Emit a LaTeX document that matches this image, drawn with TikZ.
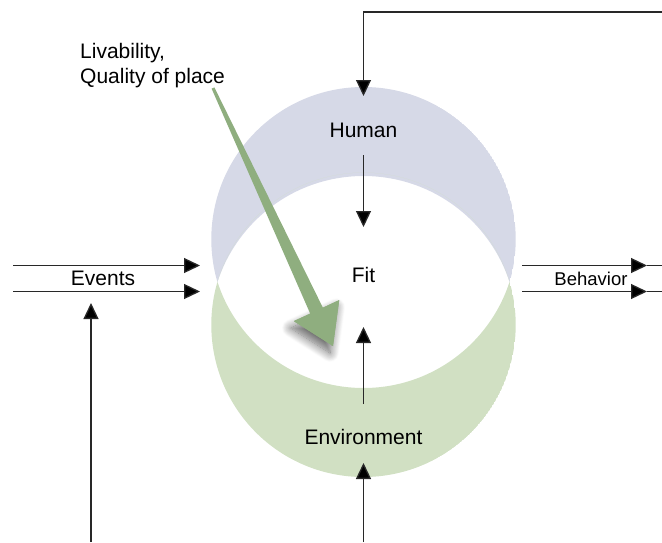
\documentclass[tikz,border=0pt]{standalone}
\usepackage{fontspec}
\setmainfont{Liberation Sans}
\usetikzlibrary{arrows.meta,shadows.blur}
\definecolor{lav}{RGB}{214,217,231}
\definecolor{grn}{RGB}{209,224,195}
\definecolor{garrow}{RGB}{143,174,127}
\definecolor{ln}{RGB}{40,40,40}
\begin{document}
\begin{tikzpicture}[x=1pt,y=-1pt,
  conn/.style={draw=ln, line width=1.3pt, -{Triangle[length=16pt,width=15pt,fill=black]}},
  plainline/.style={draw=ln, line width=1.3pt},
  lbl/.style={font=\fontsize{21}{25}\selectfont, inner sep=0pt, anchor=base},
  headshadow/.style={fill=garrow, blur shadow={shadow xshift=-3pt, shadow yshift=-7pt, shadow blur radius=9pt, shadow blur steps=14, shadow opacity=60}},
]
\useasboundingbox (0,0) rectangle (662,542);
% top crescent (Human)
\begin{scope}
  \clip (363.5,239.2) circle[radius=152.2];
  \fill[lav, even odd rule] (363.5,239.2) circle[radius=152.2] (363.5,329.5) circle[radius=153.5];
\end{scope}
% bottom crescent (Environment)
\begin{scope}
  \clip (363.5,324.8) circle[radius=152.2];
  \fill[grn, even odd rule] (363.5,324.8) circle[radius=152.2] (363.5,234.5) circle[radius=153.5];
\end{scope}
% shadow under the arrow head only
\path[headshadow]
  (322.9,307.7) -- (339.2,300.1) -- (333,346) -- (293.8,321.1) -- (310.2,313.6) -- cycle;
% green tapered arrow
\fill[garrow]
  (214.4,87.4) -- (322.9,307.7) -- (339.2,300.1) -- (333,346) -- (293.8,321.1) -- (310.2,313.6) -- (211.6,88.6) -- cycle;
% labels
\node[lbl] (human) at (363.5,137.5) {Human};
\node[lbl] (fit) at (363.5,282) {Fit};
\node[lbl] (env) at (363.5,444) {Environment};
\node[lbl] (events) at (103,285) {Events};
\node[lbl, font=\fontsize{18.5}{22}\selectfont] (behav) at (591,285.5) {Behavior};
\node[font=\fontsize{21}{25}\selectfont, inner sep=0pt, anchor=north west, align=left] (liv) at (80,43) {Livability,\\Quality of place};
% coordinates
\coordinate (topR) at (662,12);
\coordinate (topC) at (363.5,12);
\coordinate (humTip) at (363.5,96);
\coordinate (hA) at (363.5,155);
\coordinate (hB) at (363.5,227);
\coordinate (eA) at (363.5,404);
\coordinate (eB) at (363.5,327);
\coordinate (botS) at (363.5,542);
\coordinate (botT) at (363.5,463);
\coordinate (lS) at (91,542);
\coordinate (lT) at (91,303);
\coordinate (ev1S) at (13,265.5);
\coordinate (ev1T) at (200,265.5);
\coordinate (ev2S) at (13,291.5);
\coordinate (ev2T) at (200,291.5);
\coordinate (b1S) at (522,265.5);
\coordinate (b1T) at (647,265.5);
\coordinate (b1E) at (662,265.5);
\coordinate (b2S) at (522,291.5);
\coordinate (b2T) at (647,291.5);
\coordinate (b2E) at (662,291.5);
% connectors
\draw[conn] (topR) -- (topC) -- (humTip);
\draw[conn] (hA) -- (hB);
\draw[conn] (eA) -- (eB);
\draw[conn] (botS) -- (botT);
\draw[conn] (lS) -- (lT);
\draw[conn] (ev1S) -- (ev1T);
\draw[conn] (ev2S) -- (ev2T);
\draw[plainline] (b1T) -- (b1E);
\draw[plainline] (b2T) -- (b2E);
\draw[conn] (b1S) -- (b1T);
\draw[conn] (b2S) -- (b2T);
\end{tikzpicture}
\end{document}
